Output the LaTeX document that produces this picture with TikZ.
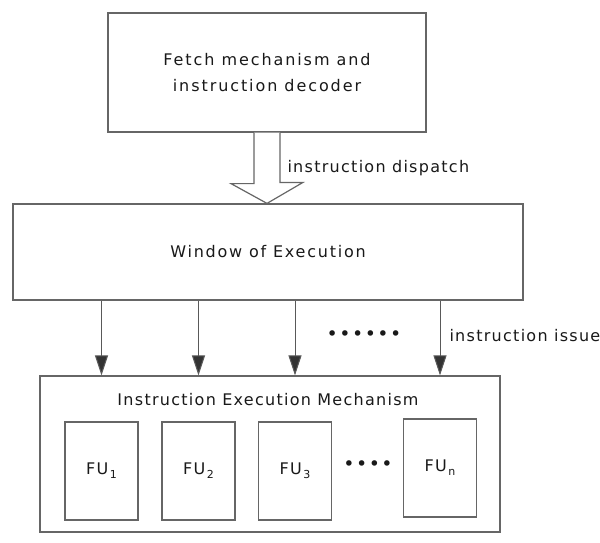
\documentclass[tikz,border=0pt]{standalone}
\usepackage{fontspec}
\setmainfont{DejaVu Sans}[LetterSpace=8]
\usetikzlibrary{arrows.meta,calc}
\newcommand{\fulabel}[1]{FU\kern1.5pt\raisebox{-4pt}{\fontsize{11}{12}\selectfont #1}}
\begin{document}
\begin{tikzpicture}[x=1pt,y=-1pt,
  font=\fontsize{16}{20}\selectfont,
  every node/.style={text=black!90},
  block/.style={draw=black!60, line width=1.2pt, fill=white, inner sep=0pt},
  fubox/.style={block, minimum width=73pt, minimum height=98pt},
  dotrow/.style={font=\fontsize{19}{20}\selectfont\addfontfeature{LetterSpace=8}},
  issue/.style={draw=black!65, line width=1pt,
    -{Triangle[length=20pt,width=13pt,fill=black!80]}},
  hollow/.style={draw=black!60, line width=1.2pt, fill=white, line join=miter}]
\useasboundingbox (0,0) rectangle (600,542);

% fetch/decode stage
\node[block, minimum width=318pt, minimum height=119pt, align=center,
  font=\fontsize{16}{20}\selectfont\addfontfeature{LetterSpace=12}]
  (fetch) at (267,72.5) {Fetch mechanism and\\[6pt]instruction decoder};

% window of execution
\node[block, minimum width=510pt, minimum height=96pt,
  font=\fontsize{16}{20}\selectfont\addfontfeature{LetterSpace=11}]
  (win) at (268,252) {Window of Execution};

% wide hollow dispatch arrow from fetch to window
\draw[hollow] ([xshift=-13pt]fetch.south) -- ++(0,51) -- ++(-23,0)
  -- (fetch.south |- win.north) -- ++(36,-21) -- ++(-23,0)
  -- ([xshift=13pt]fetch.south);
\node[anchor=west] (disp) at (284,168) {instruction dispatch};

% execution mechanism with functional units
\node[block, minimum width=460pt, minimum height=156pt] (exe) at (270,454) {};
\node (exetitle) at (268,400) {Instruction Execution Mechanism};
\node[fubox] (fu1) at (101.5,471) {\fulabel{1}};
\node[fubox] (fu2) at (198.5,471) {\fulabel{2}};
\node[fubox] (fu3) at (295,471) {\fulabel{3}};
\node[fubox] (fun) at (440,468) {\fulabel{n}};
\node[dotrow] (fudots) at (368,466) {••••};

% issue arrows
\foreach \f in {fu1,fu2,fu3,fun}
  \draw[issue] (\f |- win.south) -- (\f |- exe.north);
\node[dotrow] (issuedots) at (364,336) {••••••};
\node[anchor=west] (iss) at (446,336) {instruction issue};
\end{tikzpicture}
\end{document}
